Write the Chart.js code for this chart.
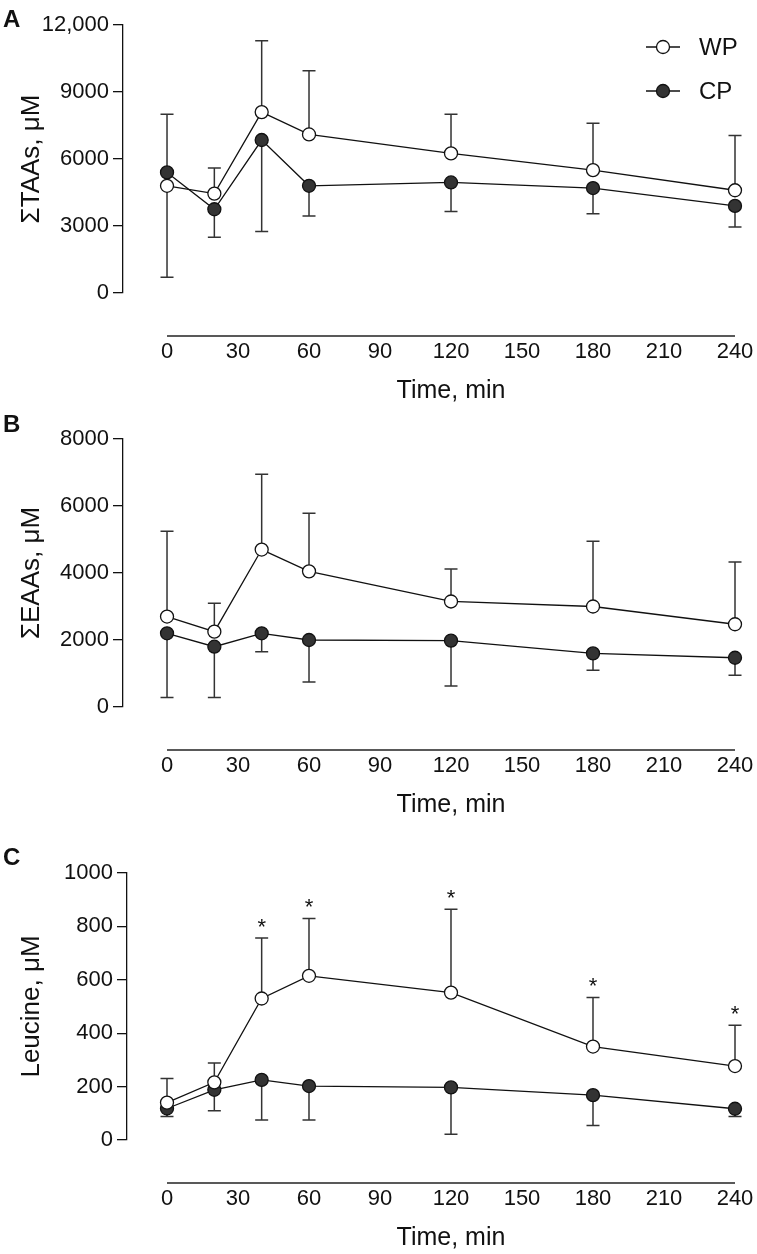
<!DOCTYPE html>
<html lang="en">
<head>
<meta charset="UTF-8">
<title>Plasma amino acids after WP and CP</title>
<script src="https://cdn.jsdelivr.net/npm/chart.js@4.4.1/dist/chart.umd.min.js"></script>
<style>
  body { margin: 0; background: #fff; }
  #wrap { position: relative; width: 757px; height: 1254px; }
  canvas { position: absolute; left: 0; }
  .tag { position: absolute; left: 3px; font: bold 24px "Liberation Sans", Arial, sans-serif; line-height: 24px; color: #111; }
</style>
</head>
<body>
<div id="wrap">
  <canvas id="chartA" width="757" height="414" style="top:0px"></canvas>
  <canvas id="chartB" width="757" height="416" style="top:414px"></canvas>
  <canvas id="chartC" width="757" height="424" style="top:830px"></canvas>
  <div class="tag" style="top:7px">A</div>
  <div class="tag" style="top:412px">B</div>
  <div class="tag" style="top:845px">C</div>
</div>
<script>
const times = [0, 20, 40, 60, 120, 180, 240];
const xTicks = [0, 30, 60, 90, 120, 150, 180, 210, 240];
const xTitle = 'Time, min';
const seriesNames = ['WP', 'CP'];

// A - total amino acids (mean, SD)
const wpTaa   = [4800, 4450, 8100, 7100, 6250, 5500, 4600];
const wpTaaSd = [3200, 1150, 3200, 2850, 1750, 2100, 2450];
const cpTaa   = [5400, 3750, 6850, 4800, 4950, 4700, 3900];
const cpTaaSd = [4700, 1250, 4100, 1350, 1300, 1150, 950];
const taaTicks = [0, 3000, 6000, 9000, 12000];
const taaTickLabels = ['0', '3000', '6000', '9000', '12,000'];

// B - essential amino acids
const wpEaa   = [2700, 2250, 4700, 4050, 3150, 3000, 2470];
const wpEaaSd = [2550, 850, 2250, 1730, 970, 1950, 1860];
const cpEaa   = [2200, 1800, 2200, 2000, 1980, 1600, 1470];
const cpEaaSd = [1920, 1520, 550, 1250, 1350, 500, 520];
const eaaTicks = [0, 2000, 4000, 6000, 8000];
const eaaTickLabels = ['0', '2000', '4000', '6000', '8000'];

// C - leucine
const wpLeu   = [140, 216, 530, 615, 552, 350, 277];
const wpLeuSd = [90, 72, 227, 215, 312, 184, 153];
const cpLeu   = [118, 188, 225, 202, 197, 168, 117];
const cpLeuSd = [30, 78, 150, 127, 175, 114, 29];
const leuStars = ['', '', '*', '*', '*', '*', '*'];
const leuTicks = [0, 200, 400, 600, 800, 1000];
const leuTickLabels = ['0', '200', '400', '600', '800', '1000'];

const FONT = '"Liberation Sans", Arial, sans-serif';
Chart.defaults.font.family = FONT;
Chart.defaults.color = '#111';

// error bars, separate x axis line, x title, stars and legend
const extras = {
  id: 'extras',
  beforeDatasetsDraw(chart) {
    const {ctx, scales: {x, y}} = chart;
    ctx.save();
    ctx.strokeStyle = '#333';
    ctx.lineWidth = 1.5;
    chart.data.datasets.forEach(ds => {
      ds.data.forEach((pt, i) => {
        const px = x.getPixelForValue(pt.x);
        const y0 = y.getPixelForValue(pt.y);
        const y1 = y.getPixelForValue(pt.y + ds.dir * ds.sd[i]);
        ctx.beginPath();
        ctx.moveTo(px, y0); ctx.lineTo(px, y1);
        ctx.moveTo(px - 6.5, y1); ctx.lineTo(px + 6.5, y1);
        ctx.stroke();
      });
    });
    ctx.restore();
  },
  afterDraw(chart, args, opts) {
    const {ctx, chartArea, scales: {x, y}} = chart;
    ctx.save();
    const x0 = x.getPixelForValue(0), x1 = x.getPixelForValue(240);
    const yl = chartArea.bottom + 43;
    ctx.strokeStyle = '#222';
    ctx.lineWidth = 1.5;
    ctx.beginPath(); ctx.moveTo(x0, yl); ctx.lineTo(x1, yl); ctx.stroke();
    ctx.fillStyle = '#111';
    ctx.font = '25px ' + FONT;
    ctx.textAlign = 'center';
    ctx.textBaseline = 'middle';
    ctx.fillText(xTitle, (x0 + x1) / 2, yl + 55);

    // significance stars above WP bars
    chart.data.datasets.forEach(ds => {
      if (!ds.stars) return;
      ctx.font = '22px ' + FONT;
      ctx.textBaseline = 'alphabetic';
      ds.data.forEach((pt, i) => {
        if (!ds.stars[i]) return;
        const cap = y.getPixelForValue(pt.y + ds.sd[i]);
        ctx.fillText(ds.stars[i], x.getPixelForValue(pt.x), cap - 4);
      });
    });

    if (opts.legend) {
      const rows = [47, 91];
      chart.data.datasets.forEach((ds, i) => {
        const ly = rows[i];
        ctx.strokeStyle = '#111';
        ctx.lineWidth = 1.3;
        ctx.beginPath(); ctx.moveTo(646, ly); ctx.lineTo(680, ly); ctx.stroke();
        ctx.beginPath(); ctx.arc(663, ly, 6.5, 0, Math.PI * 2);
        ctx.fillStyle = ds.pointBackgroundColor; ctx.fill(); ctx.stroke();
        ctx.fillStyle = '#111';
        ctx.font = '24px ' + FONT;
        ctx.textAlign = 'left';
        ctx.textBaseline = 'middle';
        ctx.fillText(ds.label, 699, ly + 1);
      });
    }
    ctx.restore();
  }
};

function makePanel(id, p) {
  const pts = vals => times.map((t, i) => ({x: t, y: vals[i]}));
  const common = {
    borderColor: '#111', borderWidth: 1.3, tension: 0, clip: false,
    pointRadius: 6.5, pointBorderColor: '#111', pointBorderWidth: 1.3
  };
  return new Chart(document.getElementById(id), {
    type: 'line',
    data: {
      datasets: [
        Object.assign({label: seriesNames[0], data: pts(p.wp), sd: p.wpSd, dir: 1, stars: p.stars,
          pointBackgroundColor: '#fff', backgroundColor: '#fff'}, common),
        Object.assign({label: seriesNames[1], data: pts(p.cp), sd: p.cpSd, dir: -1,
          pointBackgroundColor: '#333', backgroundColor: '#333'}, common)
      ]
    },
    options: {
      responsive: false,
      animation: false,
      layout: {padding: {top: p.top, right: 22, left: 0, bottom: 0}},
      plugins: {legend: {display: false}, tooltip: {enabled: false}, extras: {legend: !!p.legend}},
      scales: {
        x: {
          type: 'linear', min: p.xMin, max: 240,
          afterBuildTicks: s => { s.ticks = xTicks.map(v => ({value: v})); },
          afterFit: s => { s.height = p.xH; s.paddingLeft = 0; s.paddingRight = 0; },
          grid: {display: false, drawTicks: false},
          border: {display: false},
          ticks: {padding: 46, font: {size: 22}, color: '#111', maxRotation: 0, autoSkip: false}
        },
        y: {
          min: 0, max: p.yTicks[p.yTicks.length - 1],
          afterBuildTicks: s => { s.ticks = p.yTicks.map(v => ({value: v})); },
          afterFit: s => { s.width = p.axisX; },
          grid: {drawOnChartArea: false, drawTicks: true, tickLength: 10, color: '#111', lineWidth: 1.3},
          border: {display: true, color: '#111', width: 1.3},
          ticks: {padding: 4, font: {size: 22}, color: '#111', autoSkip: false,
            callback: (v, i) => p.yLabels[i]},
          title: {display: true, text: p.yTitle, font: {size: 26}, color: '#111', padding: {top: 16, bottom: 0}}
        }
      }
    },
    plugins: [extras]
  });
}

makePanel('chartA', {wp: wpTaa, wpSd: wpTaaSd, cp: cpTaa, cpSd: cpTaaSd,
  yTicks: taaTicks, yLabels: taaTickLabels, yTitle: '\u03A3TAAs, \u03BCM',
  top: 25, xH: 121, axisX: 123, xMin: -18.6, legend: true});
makePanel('chartB', {wp: wpEaa, wpSd: wpEaaSd, cp: cpEaa, cpSd: cpEaaSd,
  yTicks: eaaTicks, yLabels: eaaTickLabels, yTitle: '\u03A3EAAs, \u03BCM',
  top: 25, xH: 123, axisX: 123, xMin: -18.6});
makePanel('chartC', {wp: wpLeu, wpSd: wpLeuSd, cp: cpLeu, cpSd: cpLeuSd, stars: leuStars,
  yTicks: leuTicks, yLabels: leuTickLabels, yTitle: 'Leucine, \u03BCM',
  top: 43, xH: 114, axisX: 127, xMin: -16.9});
</script>
</body>
</html>
